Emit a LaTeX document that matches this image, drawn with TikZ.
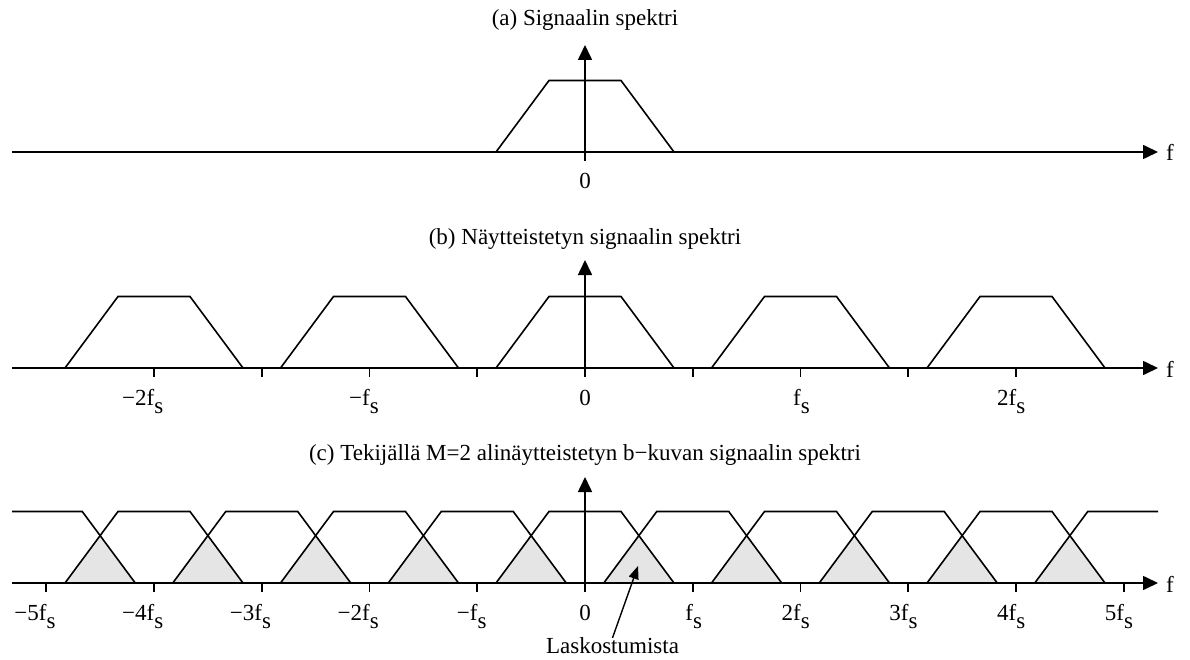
\documentclass[tikz,border=0pt]{standalone}
\usepackage{fontspec}
\setmainfont{Liberation Serif}
\usetikzlibrary{arrows.meta}
\newcommand{\fsub}{f\raisebox{-8pt}{s}}
\tikzset{
  ln/.style={line width=1.6pt, line join=miter},
  axarrow/.style={ln, -{Triangle[length=15pt,width=14pt]}},
  smallarrow/.style={line width=1.4pt, -{Triangle[length=13pt,width=10pt]}},
  txt/.style={font=\fontsize{23}{27}\selectfont, inner sep=0pt},
  ttl/.style={txt, anchor=base},
  tlbl/.style={txt, anchor=base east},
  zlbl/.style={txt, anchor=base},
  flbl/.style={txt, anchor=base west},
  alias/.style={fill=black!10, draw=none}
}
\begin{document}
\begin{tikzpicture}[x=1pt,y=-1pt]
\useasboundingbox (0,0) rectangle (1190,660);

% ---------- (a) ----------
\node[ttl] (ta) at (585,26) {(a) Signaalin spektri};
\draw[ln] (585-89,152) -- (585-36,80.5) -- (585+36,80.5) -- (585+89,152);
\coordinate (al) at (12,152);
\coordinate (ar) at (1158,152);
\draw[axarrow] (al) -- (ar);
\coordinate (ab) at (585,161);
\coordinate (at) at (585,45);
\draw[axarrow] (ab) -- (at);
\node[zlbl] (a0) at (585,189) {0};
\node[flbl] (af) at (1166,161) {f};

% ---------- (b) ----------
\node[ttl] (tb) at (585,244) {(b) Näytteistetyn signaalin spektri};
\foreach \k in {-2,...,2}{
  \pgfmathsetmacro\c{585+215.5*\k}
  \draw[ln] (\c-89,368) -- (\c-36,296.5) -- (\c+36,296.5) -- (\c+89,368);
}
\coordinate (bl) at (12,368);
\coordinate (br) at (1158,368);
\draw[axarrow] (bl) -- (br);
\foreach \k in {-4,-3,-2,-1,1,2,3,4}{
  \pgfmathsetmacro\c{585+107.75*\k}
  \draw[ln] (\c,368) -- (\c,377);
}
\coordinate (bb) at (585,377);
\coordinate (bt) at (585,260);
\draw[axarrow] (bb) -- (bt);
\node[tlbl] (bm2) at (154+9.5,405) {−2\fsub};
\node[tlbl] (bm1) at (369.5+9.5,405) {−\fsub};
\node[zlbl] (b0) at (585,405) {0};
\node[tlbl] (bp1) at (800.5+9.5,405) {\fsub};
\node[tlbl] (bp2) at (1016+9.5,405) {2\fsub};
\node[flbl] (bf) at (1166,377) {f};

% ---------- (c) ----------
\node[ttl] (tc) at (585,460) {(c) Tekijällä M=2 alinäytteistetyn b−kuvan signaalin spektri};
\foreach \k in {-5,...,4}{
  \pgfmathsetmacro\m{585+107.75*(\k+0.5)}
  \fill[alias] (\m-35.125,583) -- (\m,535.6) -- (\m+35.125,583) -- cycle;
}
\begin{scope}
  \clip (12,400) rectangle (1158,600);
  \foreach \k in {-5,...,5}{
    \pgfmathsetmacro\c{585+107.75*\k}
    \draw[ln] (\c-89,583) -- (\c-36,511.5) -- (\c+36,511.5) -- (\c+89,583);
  }
\end{scope}
\coordinate (cl) at (12,583);
\coordinate (cr) at (1158,583);
\draw[axarrow] (cl) -- (cr);
\foreach \k in {-5,...,-1,1,2,3,4,5}{
  \pgfmathsetmacro\c{585+107.75*\k}
  \draw[ln] (\c,583) -- (\c,592);
}
\coordinate (cb) at (585,592);
\coordinate (ct) at (585,477);
\draw[axarrow] (cb) -- (ct);
\node[tlbl] (cm5) at (46.25+9.5,620) {−5\fsub};
\node[tlbl] (cm4) at (154+9.5,620) {−4\fsub};
\node[tlbl] (cm3) at (261.75+9.5,620) {−3\fsub};
\node[tlbl] (cm2) at (369.5+9.5,620) {−2\fsub};
\node[tlbl] (cm1) at (477.25+9.5,620) {−\fsub};
\node[zlbl] (c0) at (585,620) {0};
\node[tlbl] (cp1) at (692.75+9.5,620) {\fsub};
\node[tlbl] (cp2) at (800.5+9.5,620) {2\fsub};
\node[tlbl] (cp3) at (908.25+9.5,620) {3\fsub};
\node[tlbl] (cp4) at (1016+9.5,620) {4\fsub};
\node[tlbl] (cp5) at (1123.75+9.5,620) {5\fsub};
\node[flbl] (cf) at (1166,592) {f};

\node[zlbl] (lask) at (612.5,653) {Laskostumista};
\coordinate (lasktip) at (638,566);
\draw[smallarrow] ([yshift=-1pt]lask.north) -- (lasktip);
\end{tikzpicture}
\end{document}
